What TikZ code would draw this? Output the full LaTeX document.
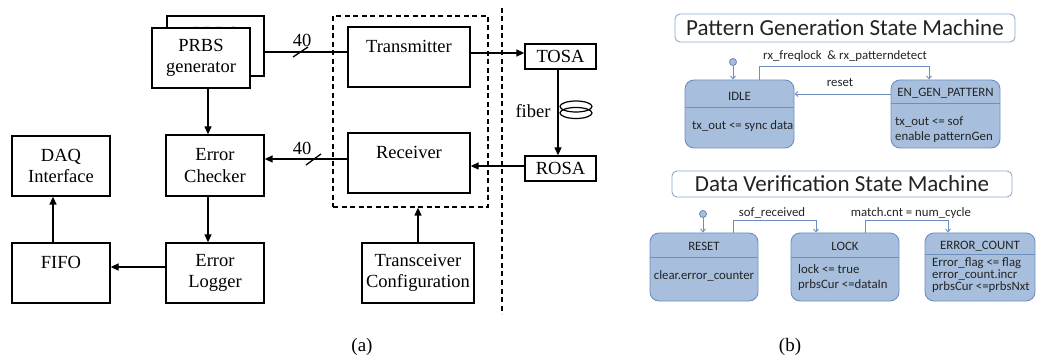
\documentclass[tikz,border=0pt]{standalone}
\usepackage{fontspec}
\setmainfont{Liberation Serif}
\newfontfamily\calib{Carlito}
\usetikzlibrary{arrows.meta,calc}
\definecolor{stfill}{RGB}{167,191,221}
\definecolor{stborder}{RGB}{109,143,192}
\definecolor{ttlborder}{RGB}{143,169,204}
\definecolor{sttext}{RGB}{35,35,35}
\begin{document}
\begin{tikzpicture}[x=1pt,y=-1pt,
  blk/.style={draw,line width=1.3pt,inner sep=0pt,align=center,font=\fontsize{18.5}{21.5}\selectfont},
  arr/.style={line width=1.3pt,-{Triangle[length=8pt,width=7pt]}},
  wire/.style={line width=1.3pt},
  dsh/.style={line width=1.3pt,dash pattern=on 5pt off 3.5pt},
  st/.style={draw=stborder,fill=stfill,line width=0.9pt,rounded corners=9pt,inner sep=0pt},
  ttl/.style={draw=ttlborder,line width=0.9pt,rounded corners=5pt,minimum width=340pt,font=\calib\fontsize{23}{25}\selectfont,text=sttext,inner sep=0pt},
  stx/.style={font=\calib\fontsize{12.8}{15}\selectfont,text=sttext,inner sep=0pt},
  div/.style={draw=stborder,line width=0.9pt},
  tr/.style={draw=stborder,line width=0.9pt,-{Straight Barb[length=3pt,width=5pt]}},
  initdot/.style={circle,draw=stborder,fill=stfill,line width=0.9pt,minimum size=7pt,inner sep=0pt},
  lbl/.style={inner sep=0pt,font=\fontsize{18.5}{21.5}\selectfont}
]
\useasboundingbox (0,0) rectangle (1039,358);

% ---------------- (a) ----------------
\node[blk,minimum width=97pt,minimum height=60pt] (prbsb) at (215.5,46) {PRBS\\generator};
\node[blk,fill=white,minimum width=98pt,minimum height=60pt] (prbs) at (201,58) {PRBS\\generator};
\node[blk,minimum width=122pt,minimum height=60pt] (tx) at (409,57) {Transmitter\\\mbox{}};
\node[blk,minimum width=122pt,minimum height=60pt] (rx) at (409,163) {Receiver\\\mbox{}};
\node[blk,minimum width=71pt,minimum height=25pt] (tosa) at (560.5,56.5) {TOSA};
\node[blk,minimum width=71pt,minimum height=25pt] (rosa) at (560.5,168.5) {ROSA};
\node[blk,minimum width=98pt,minimum height=61pt] (ec) at (215,165.5) {Error\\Checker};
\node[blk,minimum width=98pt,minimum height=60pt] (el) at (215,273) {Error\\Logger};
\node[blk,minimum width=98pt,minimum height=60pt] (daq) at (61,166) {DAQ\\Interface};
\node[blk,minimum width=98pt,minimum height=60pt] (fifo) at (61,273) {FIFO\\\mbox{}};
\node[blk,minimum width=112pt,minimum height=60pt] (tc) at (418,273) {Transceiver\\Configuration};
\node[dsh,draw,minimum width=155pt,minimum height=191pt,inner sep=0pt] (dbox) at (410.5,111.5) {};
\coordinate (vt) at (502,8);
\coordinate (vb) at (502,314);
\draw[dsh] (vt) -- (vb);

\draw[wire] ([yshift=-6pt]prbsb.east) -- ([yshift=-6pt]prbsb.east -| tx.west);
\draw[wire] (293,57) -- (308,47);
\node[lbl] (n40a) at (302,40) {40};
\draw[arr] ([yshift=4pt]tx.east) -- ([yshift=4pt]tx.east -| tosa.west);
\draw[arr] ([yshift=4pt]rx.west) -- ([yshift=4pt]rx.west -| ec.east);
\draw[wire] (306,165) -- (321,154);
\node[lbl] (n40b) at (302,148) {40};
\draw[arr] ([yshift=2.5pt]rosa.west) -- ([yshift=2.5pt]rosa.west -| rx.east);
\draw[arr] ([xshift=-2.5pt]tosa.south) -- ([xshift=-2.5pt]rosa.north);
\draw[line width=1.2pt] (576,106.5) ellipse [x radius=16pt, y radius=5.5pt];
\draw[line width=1.2pt] (576,113) ellipse [x radius=16pt, y radius=5.5pt];
\node[lbl] (fib) at (533,111) {fiber};
\draw[arr] ([xshift=7pt]prbs.south) -- ([xshift=-7pt]ec.north);
\draw[arr] ([xshift=-7pt]ec.south) -- ([xshift=-7pt]el.north);
\draw[arr] ([yshift=6pt]el.west) -- ([yshift=6pt]el.west -| fifo.east);
\draw[arr] ([xshift=-8pt]fifo.north) -- ([xshift=-8pt]daq.south);
\draw[arr] (tc.north) -- (tc.north |- dbox.south);
\node[lbl,font=\fontsize{19}{22}\selectfont] (capa) at (362,347) {(a)};

% ---------------- (b) ----------------
\node[ttl,minimum height=28pt] (t1) at (845,28) {Pattern Generation State Machine};
\node[ttl,minimum height=26pt] (t2) at (842,184) {Data Verification State Machine};

\node[st,minimum width=109pt,minimum height=68pt] (idle) at (739.5,114) {};
\draw[div] (idle.west |- 0,107) -- (idle.east |- 0,107);
\node[stx] (idleh) at (739.5,96) {IDLE};
\node[stx,anchor=west] (idleb) at (692,126) {tx\_out <= sync data};

\node[st,minimum width=109pt,minimum height=68pt] (engen) at (945.5,114) {};
\draw[div] (engen.west |- 0,103) -- (engen.east |- 0,103);
\node[stx] (engenh) at (945.5,93) {EN\_GEN\_PATTERN};
\node[stx,anchor=west] (engenb1) at (895,122) {tx\_out <= sof};
\node[stx,anchor=west] (engenb2) at (895,137) {enable patternGen};

\node[initdot] (init1) at (733,62) {};
\draw[tr] (init1) -- (init1 |- idle.north);
\draw[tr] (idle.north -| 759,0) -- (759,66) -| (engen.north -| 929,0);
\node[stx] (l1) at (845,56) {rx\_freqlock\ \ \& rx\_patterndetect};
\draw[tr] (engen.west |- 0,94) -- (idle.east |- 0,94);
\node[stx] (l2) at (840,83) {reset};

\node[st,minimum width=108pt,minimum height=68pt] (rst) at (704,267) {};
\draw[div] (rst.west |- 0,257) -- (rst.east |- 0,257);
\node[stx] (rsth) at (704,246) {RESET};
\node[stx] (rstb) at (704,276) {clear.error\_counter};

\node[st,minimum width=108pt,minimum height=68pt] (lock) at (845,267) {};
\draw[div] (lock.west |- 0,257) -- (lock.east |- 0,257);
\node[stx] (lockh) at (845,246) {LOCK};
\node[stx,anchor=west] (lockb1) at (798,269) {lock <= true};
\node[stx,anchor=west] (lockb2) at (798,285) {prbsCur <=dataIn};

\node[st,minimum width=110pt,minimum height=68pt] (errc) at (980,267) {};
\draw[div] (errc.west |- 0,254) -- (errc.east |- 0,254);
\node[stx] (errch) at (980,246) {ERROR\_COUNT};
\node[stx,anchor=west] (errcb1) at (932,263) {Error\_flag <= flag};
\node[stx,anchor=west] (errcb2) at (932,275) {error\_count.incr};
\node[stx,anchor=west] (errcb3) at (932,287) {prbsCur <=prbsNxt};

\node[initdot] (init2) at (703,214) {};
\draw[tr] (init2) -- (init2 |- rst.north);
\draw[tr] (rst.north -| 733,0) -- (733,220) -| (lock.north -| 816,0);
\node[stx] (l3) at (772,213) {sof\_received};
\draw[tr] (lock.north -| 865,0) -- (865,220) -| (errc.north -| 948,0);
\node[stx] (l4) at (911,213) {match.cnt = num\_cycle};

\node[lbl,font=\fontsize{19}{22}\selectfont] (capb) at (790,347) {(b)};
\end{tikzpicture}
\end{document}
